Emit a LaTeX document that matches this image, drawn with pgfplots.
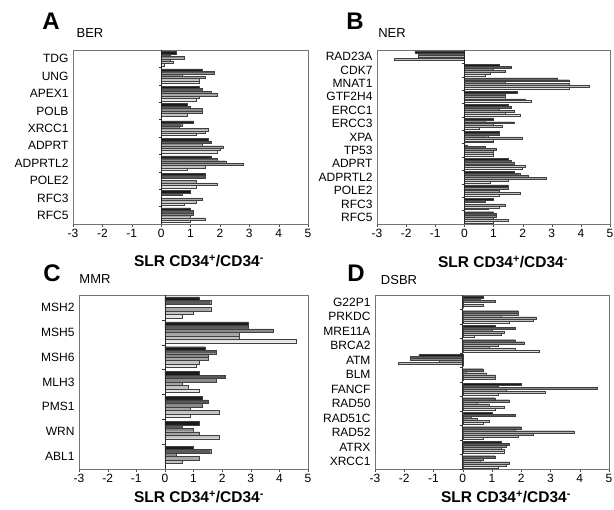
\documentclass[border=0pt]{standalone}
\usepackage{fontspec}
\setmainfont{Liberation Sans}
\usepackage{pgfplots}
\usepackage{pgfplotstable}
\pgfplotsset{compat=1.18}

\definecolor{g1}{HTML}{1A1A1A}
\definecolor{g2}{HTML}{5A5A5A}
\definecolor{g3}{HTML}{8A8A8A}
\definecolor{g4}{HTML}{A6A6A6}
\definecolor{g5}{HTML}{C2C2C2}
\definecolor{g6}{HTML}{E4E4E4}

% SLR values, six bars per gene (top to bottom)
\pgfplotstableread{
g  a     b     c     d     e     f
0  0.5   0.3   0.8   0.3   0.4   0.1
1  1.4   1.8   0.7   1.5   1.3   1.3
2  1.3   1.4   1.7   1.9   1.3   1.2
3  0.9   1.0   1.4   1.4   0.9   0.0
4  1.1   0.7   0.6   1.6   1.5   1.2
5  1.6   1.7   1.4   2.1   2.0   1.9
6  1.7   1.9   2.2   2.8   1.5   0.9
7  1.5   1.5   0.0   1.2   1.9   1.2
8  1.0   0.7   0.0   1.4   1.2   0.8
9  1.0   1.1   1.1   1.0   1.5   1.0
}\dataA

\pgfplotstableread{
g  a     b     c     d     e     f
0  -1.7  -1.6  -1.6  -1.2  -2.4  0.0
1  1.2   1.6   1.0   1.4   0.9   0.7
2  3.2   3.6   1.4   3.6   4.3   3.6
3  1.8   1.4   1.4   1.4   2.1   2.3
4  1.5   1.6   1.2   1.7   1.4   1.9
5  1.0   0.7   1.7   1.0   1.3   0.5
6  1.2   1.2   0.8   2.0   1.0   1.0
7  0.1   0.7   1.1   1.0   1.0   1.0
8  1.5   1.6   1.7   1.0   2.1   2.0
9  1.7   1.9   2.2   2.8   1.5   0.9
10 1.5   1.5   0.0   1.2   1.9   1.2
11 1.0   0.7   0.0   1.4   1.2   0.8
12 1.0   1.1   1.1   1.0   1.5   1.0
}\dataB

\pgfplotstableread{
g  a     b     c     d     e     f
0  1.2   1.6   0.0   1.6   1.0   0.6
1  2.9   2.9   3.8   2.6   2.6   4.6
2  1.4   1.8   1.5   1.5   1.2   1.1
3  1.2   2.1   1.8   0.6   0.8   1.2
4  1.3   1.5   1.3   0.9   1.9   0.9
5  1.2   0.6   1.0   1.2   1.9   0.0
6  1.0   1.6   0.4   1.2   0.6   0.0
}\dataC

\pgfplotstableread{
g  a     b     c     d     e     f
0  0.7   0.6   1.1   0.0   0.7   0.0
1  1.9   1.9   1.3   2.5   2.4   1.6
2  1.1   1.8   1.0   1.4   1.3   0.4
3  1.8   2.1   1.2   0.9   1.8   2.6
4  -1.5  -1.8  -1.8  -0.8  -2.2  0.0
5  0.7   0.1   0.8   1.1   1.1   0.0
6  2.0   1.2   4.6   1.5   2.8   1.2
7  1.1   1.6   0.5   0.9   1.4   1.1
8  1.0   1.8   0.3   0.5   0.9   0.7
9  2.0   1.8   3.8   2.4   1.9   0.7
10 1.3   1.6   1.5   1.3   1.4   1.4
11 1.1   0.7   0.6   1.6   1.5   1.2
}\dataD

\pgfplotsset{
  slr/.style={
    scale only axis, anchor=north west, height=174pt,
    xbar, bar width=0.14, y dir=reverse,
    xmin=-3, xmax=5, xtick={-3,...,5},
    xticklabels={-3,-2,-1,0,1,2,3,4,5},
    ymin=-0.5,
    xtick pos=bottom, tick align=outside, major tick length=3pt,
    ytick style={draw=none},
    axis line style={black!55, line width=0.8pt},
    xtick style={black!70},
    xticklabel style={font=\fontsize{12}{13}\selectfont, yshift=1pt},
    yticklabel style={font=\fontsize{12}{12}\selectfont, xshift=2pt},
    every axis plot/.append style={line width=0.3pt, draw=black!75},
  },
}

\newcommand{\genebars}[2]{%
  \addplot[fill=g1, bar shift=-0.35] table[x=a, y=g]{#1};
  \addplot[fill=g2, bar shift=-0.21] table[x=b, y=g]{#1};
  \addplot[fill=g3, bar shift=-0.07] table[x=c, y=g]{#1};
  \addplot[fill=g4, bar shift=0.07] table[x=d, y=g]{#1};
  \addplot[fill=g5, bar shift=0.21] table[x=e, y=g]{#1};
  \addplot[fill=g6, bar shift=0.35] table[x=f, y=g]{#1};
  \draw[black!85, line width=0.7pt] (axis cs:0,-0.5) -- (axis cs:0,#2);
  \pgfplotsinvokeforeach{0.5,1.5,...,#2}{\draw[black!80] (axis cs:0,##1) -- ++(-2.5pt,0pt);}
}

\newcommand{\slrlabel}{\textbf{SLR CD34\textsuperscript{+}/CD34\textsuperscript{-}}}

\begin{document}
\begin{tikzpicture}
\useasboundingbox (0,0) rectangle (614pt,-510pt);

\begin{axis}[slr, at={(73pt,-50pt)}, width=235pt, ymax=9.5,
  ytick={0,...,9},
  yticklabels={TDG,UNG,APEX1,POLB,XRCC1,ADPRT,ADPRTL2,POLE2,RFC3,RFC5}]
  \genebars{\dataA}{9.5}
\end{axis}

\begin{axis}[slr, at={(377pt,-50pt)}, width=233pt, ymax=12.5,
  ytick={0,...,12},
  yticklabels={RAD23A,CDK7,MNAT1,GTF2H4,ERCC1,ERCC3,XPA,TP53,ADPRT,ADPRTL2,POLE2,RFC3,RFC5}]
  \genebars{\dataB}{12.5}
\end{axis}

\begin{axis}[slr, at={(79pt,-295pt)}, width=229pt, ymax=6.5,
  ytick={0,...,6},
  yticklabels={MSH2,MSH5,MSH6,MLH3,PMS1,WRN,ABL1}]
  \genebars{\dataC}{6.5}
\end{axis}

\begin{axis}[slr, at={(375pt,-295pt)}, width=234pt, ymax=11.5,
  ytick={0,...,11},
  yticklabels={G22P1,PRKDC,MRE11A,BRCA2,ATM,BLM,FANCF,RAD50,RAD51C,RAD52,ATRX,XRCC1}]
  \genebars{\dataD}{11.5}
\end{axis}

\node[font=\fontsize{24}{26}\selectfont\bfseries] at (51pt,-21pt) {A};
\node[font=\fontsize{13}{14}\selectfont] at (90pt,-33pt) {BER};
\node[font=\fontsize{24}{26}\selectfont\bfseries] at (355pt,-21pt) {B};
\node[font=\fontsize{13}{14}\selectfont] at (392pt,-33pt) {NER};
\node[font=\fontsize{24}{26}\selectfont\bfseries] at (52pt,-273pt) {C};
\node[font=\fontsize{13}{14}\selectfont] at (95pt,-279pt) {MMR};
\node[font=\fontsize{24}{26}\selectfont\bfseries] at (356pt,-273pt) {D};
\node[font=\fontsize{13}{14}\selectfont] at (399pt,-280pt) {DSBR};

\node[font=\fontsize{15.5}{17}\selectfont] at (199pt,-261pt) {\slrlabel};
\node[font=\fontsize{15.5}{17}\selectfont] at (503pt,-262pt) {\slrlabel};
\node[font=\fontsize{15.5}{17}\selectfont] at (199pt,-497pt) {\slrlabel};
\node[font=\fontsize{15.5}{17}\selectfont] at (506pt,-497pt) {\slrlabel};
\end{tikzpicture}
\end{document}
